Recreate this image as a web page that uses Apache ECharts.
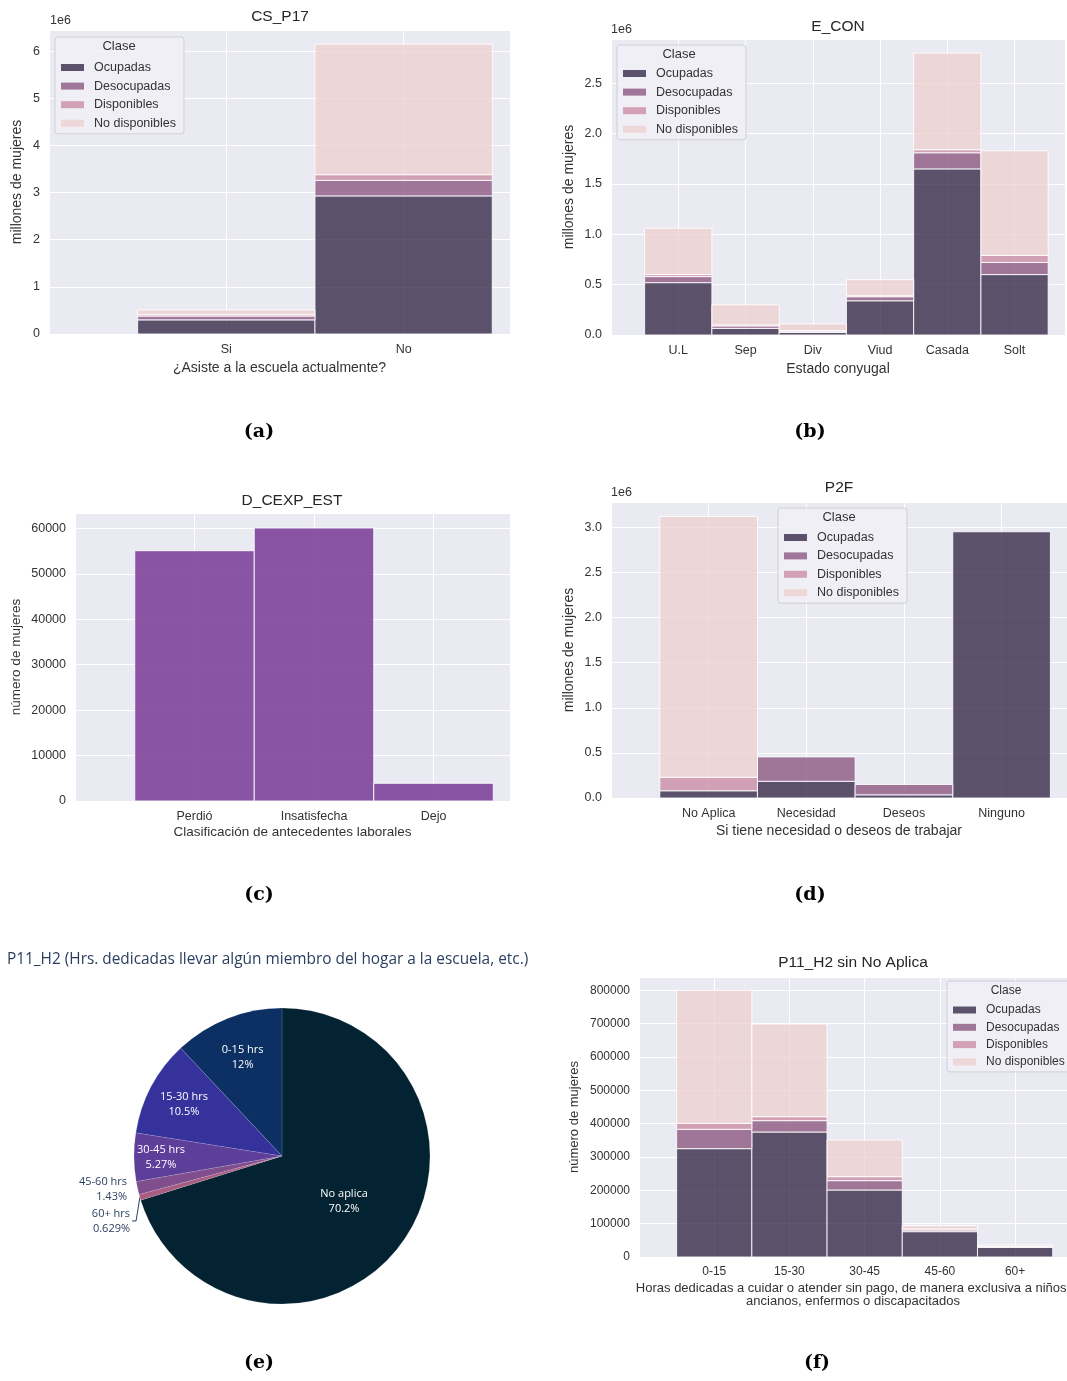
<!DOCTYPE html>
<html lang="es">
<head>
<meta charset="UTF-8">
<title>Mujeres - ENOE</title>
<script src="https://cdn.jsdelivr.net/npm/echarts/dist/echarts.min.js"></script>
<style>
  html, body { margin: 0; padding: 0; background: #fff; }
  #fig { width: 1067px; height: 1381px; }
</style>
</head>
<body>
<div id="fig"></div>
<script>
// clases (hue de seaborn)
var clases = ['Ocupadas', 'Desocupadas', 'Disponibles', 'No disponibles'];
var coloresClase = ['rgba(43,29,61,0.75)', 'rgba(133,78,122,0.75)', 'rgba(202,135,159,0.75)', 'rgba(237,207,205,0.75)'];

// (a) CS_P17
var catsA = ['Si', 'No'];
var ocupA = [300000, 2930000];
var desocA = [80000, 330000];
var dispA = [30000, 120000];
var noDispA = [100000, 2770000];

// (b) E_CON
var catsB = ['U.L', 'Sep', 'Div', 'Viud', 'Casada', 'Solt'];
var ocupB = [520000, 66000, 25000, 340000, 1650000, 600000];
var desocB = [60000, 24000, 12000, 40000, 160000, 120000];
var dispB = [20000, 10000, 8000, 10000, 30000, 70000];
var noDispB = [460000, 200000, 65000, 160000, 960000, 1040000];

// (c) D_CEXP_EST
var catsC = ['Perdió', 'Insatisfecha', 'Dejo'];
var valoresC = [55100, 60100, 3900];

// (d) P2F
var catsD = ['No Aplica', 'Necesidad', 'Deseos', 'Ninguno'];
var ocupD = [80000, 185000, 35000, 2950000];
var desocD = [0, 270000, 115000, 0];
var dispD = [150000, 0, 0, 0];
var noDispD = [2890000, 0, 0, 0];

// (e) P11_H2 pastel (porcentajes)
var pieNombres = ['No aplica', '60+ hrs', '45-60 hrs', '30-45 hrs', '15-30 hrs', '0-15 hrs'];
var piePct = [70.2, 0.629, 1.43, 5.27, 10.5, 12];
var pieColores = ['#032333', '#a75d81', '#804e8d', '#5d3e99', '#35329b', '#0d3064'];

// (f) P11_H2 sin No Aplica
var catsF = ['0-15', '15-30', '30-45', '45-60', '60+'];
var ocupF = [325000, 375000, 201000, 76000, 29000];
var desocF = [58000, 34000, 28000, 5000, 2000];
var dispF = [18000, 12000, 12000, 3000, 1000];
var noDispF = [399000, 278000, 110000, 10000, 4000];

var FONT = 'Liberation Sans, Arial, sans-serif';
var GRIS = '#333';

function rectItem(params, api) {
    var x = api.value(0);
    var lo = api.coord([x - 0.5, api.value(1)]);
    var hi = api.coord([x + 0.5, api.value(2)]);
    return {
        type: 'rect',
        shape: { x: lo[0], y: hi[1], width: hi[0] - lo[0], height: lo[1] - hi[1] },
        style: { fill: api.visual('color'), stroke: 'rgba(255,255,255,0.85)', lineWidth: 1 }
    };
}

// series apiladas de un panel
function apiladas(cats, tabla, idx, colores, nombres) {
    var base = cats.map(function () { return 0; });
    return tabla.map(function (vals, k) {
        var data = [];
        vals.forEach(function (v, i) {
            if (v > 0) data.push([i, base[i], base[i] + v]);
            base[i] += v;
        });
        return {
            type: 'custom', name: nombres[k], xAxisIndex: idx, yAxisIndex: idx,
            renderItem: rectItem, itemStyle: { color: colores[k] },
            encode: { x: 0, y: 2 }, data: data, silent: true, z: 3
        };
    });
}

// paneles: grid + ejes
var paneles = [
    { cats: catsA, grid: [49, 30, 461, 304], xmax: 1.6, ymax: 6.45e6, step: 1e6,
      fmt: function (v) { return v % 1e6 === 0 ? String(v / 1e6) : ''; },
      xname: '¿Asiste a la escuela actualmente?', yname: 'millones de mujeres', gx: 28, gy: 25, fs: 12.5, ns: 14 },
    { cats: catsB, grid: [611, 39, 454, 296], xmax: 5.75, ymax: 2.94e6, step: 5e5,
      fmt: function (v) { return v % 5e5 === 0 ? (v / 1e6).toFixed(1) : ''; },
      xname: 'Estado conyugal', yname: 'millones de mujeres', gx: 28, gy: 35, fs: 12.5, ns: 14 },
    { cats: catsC, grid: [75, 513, 435, 288], xmax: 2.64, ymax: 63400, step: 10000,
      fmt: function (v) { return v % 10000 === 0 ? String(v) : ''; },
      xname: 'Clasificación de antecedentes laborales', yname: 'número de mujeres', gx: 25, gy: 52, fs: 12.5, ns: 13.5 },
    { cats: catsD, grid: [611, 502, 456, 296], xmax: 3.67, ymax: 3.28e6, step: 5e5,
      fmt: function (v) { return v % 5e5 === 0 ? (v / 1e6).toFixed(1) : ''; },
      xname: 'Si tiene necesidad o deseos de trabajar', yname: 'millones de mujeres', gx: 27, gy: 35, fs: 12.5, ns: 14 },
    { cats: catsF, grid: [639, 977, 428, 280], xmax: 4.69, ymax: 840000, step: 100000,
      fmt: function (v) { return v % 100000 === 0 ? String(v) : ''; },
      xname: 'Horas dedicadas a cuidar o atender sin pago, de manera exclusiva a niños,\nancianos, enfermos o discapacitados',
      yname: 'número de mujeres', gx: 25, gy: 58, fs: 12, ns: 13 }
];

var grids = [], xAxes = [], yAxes = [];
paneles.forEach(function (p, i) {
    grids.push({ left: p.grid[0], top: p.grid[1], width: p.grid[2], height: p.grid[3],
        containLabel: false, outerBoundsMode: 'none',
        show: true, backgroundColor: '#eaeaf2', borderWidth: 0 });
    xAxes.push({
        type: 'value', gridIndex: i, min: -1, max: p.xmax, interval: 1,
        axisLine: { show: false }, axisTick: { show: false },
        splitLine: { show: true, lineStyle: { color: '#fff', width: 1 } },
        axisLabel: { margin: 9, color: GRIS, fontFamily: FONT, fontSize: p.fs,
            formatter: function (v) { return (v >= 0 && v % 1 === 0 && p.cats[v]) ? p.cats[v] : ''; } },
        name: p.xname, nameLocation: 'middle', nameGap: p.gx,
        nameTextStyle: { color: GRIS, fontFamily: FONT, fontSize: p.ns, lineHeight: 13 }
    });
    yAxes.push({
        type: 'value', gridIndex: i, min: 0, max: p.ymax, interval: p.step,
        axisLine: { show: false }, axisTick: { show: false },
        splitLine: { show: true, lineStyle: { color: '#fff', width: 1 } },
        axisLabel: { margin: 9, color: GRIS, fontFamily: FONT, fontSize: p.fs, formatter: p.fmt },
        name: p.yname, nameLocation: 'middle', nameGap: p.gy, nameRotate: 90,
        nameTextStyle: { color: GRIS, fontFamily: FONT, fontSize: p.ns }
    });
});

var series = [];
series = series.concat(apiladas(catsA, [ocupA, desocA, dispA, noDispA], 0, coloresClase, clases));
series = series.concat(apiladas(catsB, [ocupB, desocB, dispB, noDispB], 1, coloresClase, clases));
series = series.concat(apiladas(catsC, [valoresC], 2, ['rgba(120,57,150,0.85)'], ['D_CEXP_EST']));
series = series.concat(apiladas(catsD, [ocupD, desocD, dispD, noDispD], 3, coloresClase, clases));
series = series.concat(apiladas(catsF, [ocupF, desocF, dispF, noDispF], 4, coloresClase, clases));

// ajustes de etiquetas internas del pastel (estilo plotly)
var pieAjuste = { 3: [-44, 1], 4: [-30, -16], 5: [-11, -27] };
series.push({
    type: 'pie', center: [282, 1156], radius: 148, startAngle: 90, clockwise: true,
    avoidLabelOverlap: true, silent: true,
    itemStyle: { borderColor: 'rgba(255,255,255,0.25)', borderWidth: 0.5 },
    label: { position: 'inside', formatter: '{b}\n{c}%', color: '#fff',
        fontFamily: 'Open Sans', fontSize: 11, lineHeight: 15 },
    labelLine: { show: false },
    labelLayout: function (p) {
        var d = pieAjuste[p.dataIndex];
        return d ? { dx: d[0], dy: d[1] } : {};
    },
    data: pieNombres.map(function (n, i) {
        var item = { name: n, value: piePct[i], itemStyle: { color: pieColores[i] } };
        if (i === 1 || i === 2) {
            item.label = { position: 'outside', color: '#2a3f5f', distanceToLabelLine: 2 };
            item.labelLine = { show: i === 1, length: 4, length2: 4, lineStyle: { color: '#2a3f5f', width: 1 } };
        }
        return item;
    })
});

function leyenda(left, top, fs, gap, padTop) {
    return {
        orient: 'vertical', left: left, top: top, data: clases, icon: 'rect',
        itemWidth: 23, itemHeight: 7, itemGap: gap, selectedMode: false,
        padding: [padTop, 8, 4, 6], backgroundColor: 'rgba(240,240,246,0.85)',
        borderColor: '#cfcfd8', borderWidth: 1, borderRadius: 3,
        textStyle: { color: GRIS, fontFamily: FONT, fontSize: fs, padding: [0, 0, 0, 5] }
    };
}

function texto(x, y, t, font, align, color) {
    return { type: 'text', x: x, y: y, z: 100, silent: true,
        style: { text: t, font: font, fill: color || '#262626', textAlign: align || 'center', textVerticalAlign: 'middle' } };
}

var tituloFont = '15.5px Liberation Sans, Arial, sans-serif';
var capFont = 'bold 19px DejaVu Serif, serif';
var graficos = [
    texto(280, 17, 'CS_P17', tituloFont),
    texto(838, 27, 'E_CON', tituloFont),
    texto(292, 501, 'D_CEXP_EST', tituloFont),
    texto(839, 488, 'P2F', tituloFont),
    texto(853, 963, 'P11_H2 sin No Aplica', tituloFont),
    texto(50, 21, '1e6', '12.5px Liberation Sans, Arial', 'left', GRIS),
    texto(611, 30, '1e6', '12.5px Liberation Sans, Arial', 'left', GRIS),
    texto(611, 493, '1e6', '12.5px Liberation Sans, Arial', 'left', GRIS),
    texto(119, 46, 'Clase', '13px Liberation Sans, Arial', 'center', GRIS),
    texto(679, 54, 'Clase', '13px Liberation Sans, Arial', 'center', GRIS),
    texto(839, 517, 'Clase', '13px Liberation Sans, Arial', 'center', GRIS),
    texto(1006, 991, 'Clase', '12px Liberation Sans, Arial', 'center', GRIS),
    texto(7, 960, 'P11_H2 (Hrs. dedicadas llevar algún miembro del hogar a la escuela, etc.)', '15.4px Open Sans', 'left', '#2a3f5f'),
    texto(259, 432, '(a)', capFont, 'center', '#000'),
    texto(810, 432, '(b)', capFont, 'center', '#000'),
    texto(259, 895, '(c)', capFont, 'center', '#000'),
    texto(810, 895, '(d)', capFont, 'center', '#000'),
    texto(259, 1363, '(e)', capFont, 'center', '#000'),
    texto(817, 1363, '(f)', capFont, 'center', '#000')
];

var myChart = echarts.init(document.getElementById('fig'));
myChart.setOption({
    backgroundColor: '#fff',
    animation: false,
    grid: grids,
    xAxis: xAxes,
    yAxis: yAxes,
    legend: [
        leyenda(55, 37, 12.5, 5.6, 24),
        leyenda(617, 45, 12.5, 5.6, 22),
        leyenda(778, 508, 12.5, 5.4, 23),
        leyenda(947, 981, 12, 5.3, 23)
    ],
    graphic: graficos,
    series: series
});
</script>
</body>
</html>
